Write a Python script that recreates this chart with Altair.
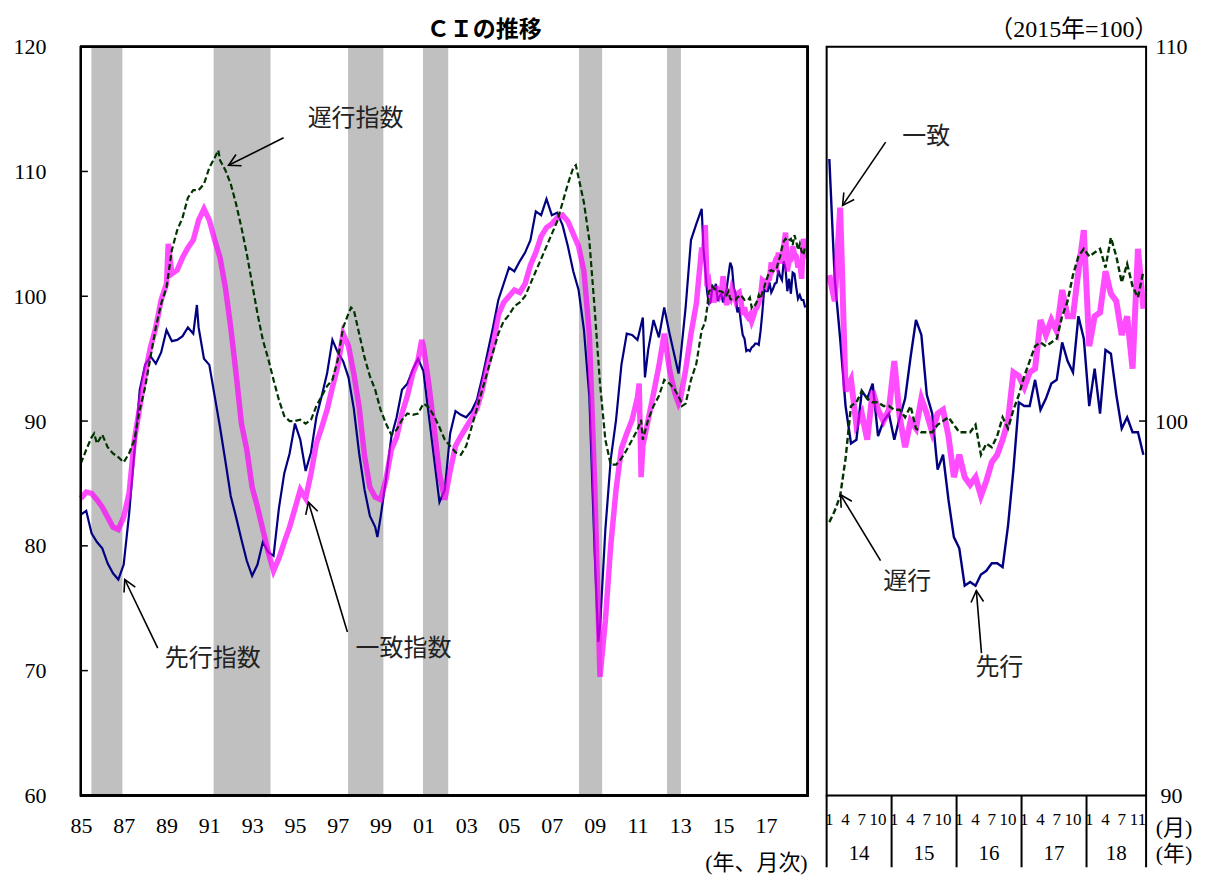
import math
import altair as alt
import pandas as pd

# ---------------- data ----------------
# recession shading (decimal years)
REC_START = [1985.49, 1991.20, 1997.48, 2000.98, 2008.27, 2012.38]
REC_END = [1986.94, 1993.86, 1999.13, 2002.16, 2009.35, 2013.03]

# quarterly values 1985Q1 .. 2013Q4 (t = 1985 + 0.25*k)
Q_LEAD = [82.5, 82.8, 81.0, 80.3, 79.8, 78.6, 77.8, 77.3, 78.5, 82.5, 87.5, 92.5,
          94.5, 95.2, 94.6, 95.5, 97.3, 96.4, 96.5, 96.8, 97.5, 97.0, 97.5, 95.0,
          94.5, 92.0, 89.5, 86.8, 84.0, 82.3, 80.5, 78.8, 77.6, 78.5, 80.3, 79.5,
          79.2, 83.0, 85.8, 87.4, 89.8, 88.5, 86.0, 87.5, 90.3, 92.0, 93.8, 96.5,
          95.5, 94.8, 93.5, 91.0, 87.4, 84.5, 82.4, 81.5, 82.3, 85.3, 88.7, 90.3,
          92.5, 93.0, 94.1, 95.0, 94.0, 90.5, 87.0, 83.5, 84.5, 89.0, 90.8, 90.5,
          90.3, 90.8, 91.7, 93.5, 95.5, 97.5, 99.7, 101.0, 102.3, 102.0, 102.8, 103.5,
          104.5, 106.8, 106.5, 107.8, 106.5, 106.7, 105.7, 104.0, 102.0, 100.5, 97.3, 92.0,
          79.5, 73.5, 81.3, 86.9, 90.1, 94.5, 97.0, 96.9, 96.5, 98.3, 95.7, 98.1,
          96.7, 99.1, 97.0, 95.1, 94.9, 99.1, 104.5, 105.8]
Q_COIN = [83.8, 84.3, 84.2, 83.7, 83.1, 82.3, 81.5, 81.3, 82.3, 84.2, 88.5, 91.1,
          93.8, 95.9, 97.5, 99.7, 101.0, 101.8, 102.1, 103.1, 103.9, 104.5, 106.1, 107.0,
          106.1, 104.5, 103.1, 100.7, 97.5, 93.8, 89.8, 87.7, 84.7, 83.1, 81.3, 79.5,
          78.0, 79.0, 80.3, 81.5, 83.0, 84.5, 83.8, 85.8, 88.2, 89.5, 90.9, 92.7,
          94.4, 97.0, 96.0, 93.8, 91.1, 87.2, 84.7, 83.9, 83.7, 85.3, 87.7, 88.7,
          90.6, 92.0, 93.8, 94.9, 96.0, 93.0, 89.5, 85.8, 83.7, 86.0, 88.0, 88.8,
          89.5, 90.2, 91.0, 92.5, 94.5, 96.0, 98.5, 99.5, 100.0, 100.5, 100.3, 101.0,
          102.5, 103.5, 104.8, 105.5, 105.8, 106.3, 106.5, 106.0, 105.0, 104.0, 102.0, 97.0,
          85.0, 69.5, 74.0, 80.0, 84.5, 87.8, 89.0, 90.1, 91.9, 88.0, 90.1, 92.2,
          94.4, 97.0, 94.1, 92.2, 91.7, 94.1, 97.0, 99.4]
Q_LAG = [86.6, 87.7, 88.7, 88.2, 88.9, 87.9, 87.4, 87.1, 86.7, 87.4, 88.5, 90.9,
         92.7, 95.1, 97.5, 99.4, 100.7, 103.7, 105.3, 106.3, 107.9, 108.5, 108.5, 109.0,
         110.3, 111.1, 110.9, 110.1, 109.0, 107.4, 105.5, 103.4, 101.0, 98.6, 96.5, 95.0,
         93.3, 91.7, 90.4, 90.0, 90.0, 90.1, 89.8, 90.1, 91.2, 92.0, 92.8, 93.3,
         94.9, 97.5, 98.6, 98.9, 97.0, 95.1, 93.6, 92.5, 90.9, 89.8, 88.9, 89.3,
         90.1, 90.6, 90.5, 90.6, 91.4, 91.1, 90.4, 89.5, 88.5, 88.0, 87.5, 87.3,
         88.0, 89.5, 91.0, 92.5, 94.0, 95.5, 97.0, 98.0, 98.5, 99.2, 99.5, 100.0,
         101.0, 102.0, 103.0, 104.0, 105.0, 106.0, 107.5, 109.0, 110.3, 109.5, 107.5, 104.5,
         99.0, 93.0, 88.5, 86.5, 86.5, 87.0, 87.7, 88.5, 89.3, 88.5, 90.1, 91.2,
         92.0, 93.3, 93.0, 92.5, 91.7, 91.4, 93.3, 94.6]

# extra turning points between quarters
LEAD_XT = [1990.42, 1998.85, 2009.17, 2011.35, 2012.92]
LEAD_XV = [99.3, 80.7, 72.3, 93.5, 93.8]
COIN_XT = [1989.08, 2000.92, 2011.08, 2011.17, 2012.92]
COIN_XV = [104.2, 96.5, 93.0, 85.5, 91.4]
LAG_XT = [1985.62, 1991.42, 1997.62, 2008.12, 2011.17, 2013.08]
LAG_XV = [89.0, 111.7, 99.1, 110.5, 90.1, 91.2]

# monthly Jan 2014 .. Nov 2018
M_LEAD = [107.0, 103.8, 102.2, 100.4, 99.4, 99.5, 100.8, 100.6, 101.0, 99.6, 100.0, 100.2,
          99.5, 100.1, 100.6, 101.7, 102.7, 102.3, 100.7, 100.2, 98.7, 99.1, 97.9, 96.9,
          96.6, 95.6, 95.7, 95.6, 95.9, 96.0, 96.2, 96.2, 96.1, 97.2, 98.7, 100.5,
          100.4, 100.4, 101.1, 100.3, 100.6, 101.0, 101.1, 102.1, 101.6, 101.3, 102.8, 102.2,
          100.4, 101.4, 100.2, 101.9, 101.8, 100.7, 99.8, 100.1, 99.7, 99.7, 99.1]
M_COIN = [103.9, 103.2, 105.7, 100.8, 101.1, 99.9, 100.2, 99.5, 100.8, 100.3, 100.0, 100.3,
          101.6, 100.1, 99.3, 100.0, 99.8, 100.6, 100.2, 99.7, 100.2, 100.3, 99.6, 98.5,
          99.1, 98.5, 98.3, 98.5, 98.0, 98.4, 98.9, 99.1, 99.5, 100.0, 101.3, 101.2,
          100.9, 101.3, 101.4, 102.7, 102.3, 102.7, 102.4, 103.5, 102.8, 102.8, 104.0, 105.1,
          102.0, 102.8, 102.9, 104.0, 103.4, 103.2, 102.3, 102.8, 101.4, 104.6, 103.0]
M_LAG = [97.3, 97.6, 98.0, 99.0, 100.4, 100.5, 100.8, 100.6, 100.5, 100.5, 100.4, 100.4,
         100.3, 100.3, 100.1, 100.4, 99.8, 99.7, 99.7, 99.7, 99.9, 100.0, 100.1, 99.9,
         99.7, 99.7, 99.7, 99.9, 99.1, 99.4, 99.3, 99.6, 100.1, 99.8, 100.3, 100.7,
         101.2, 101.6, 102.0, 102.1, 102.0, 102.1, 102.2, 102.8, 103.2, 103.9, 104.4, 104.6,
         104.4, 104.5, 104.6, 104.1, 104.9, 104.4, 103.7, 104.2, 103.6, 103.3, 104.0]

YEAR_TICKS = list(range(1985, 2018, 2))
Y_TICKS_L = [60, 70, 80, 90, 100, 110, 120]
Y_TICKS_R = [90, 100, 110]
R_YEARS = ["14", "15", "16", "17", "18"]
R_MONTHS = [1, 4, 7, 10]
R_MONTH_TEXT_LAST = ["1", "4", "7", "11"]

# annotations: label, text position, arrow tail, arrow head
L_NOTES = [("遅行指数", 1997.83, 114.2, 1994.47, 112.7, 1991.9, 110.5),
           ("先行指数", 1991.16, 70.9, 1988.59, 71.8, 1987.05, 77.3),
           ("一致指数", 2000.07, 71.7, 1997.45, 73.1, 1995.63, 83.5)]
R_NOTES = [("一致", 18.4, 107.6, 10.9, 107.45, 2.95, 105.76),
           ("遅行", 14.9, 95.7, 9.96, 96.27, 2.58, 98.03),
           ("先行", 31.9, 93.4, 28.6, 93.8, 27.65, 95.47)]

# ---------------- layout / style ----------------
W_L, W_R, H = 728, 320, 750
X0, X1 = 1985.0, 2018.95
NUM_FONT = "Liberation Serif, Noto Sans CJK JP"
JP_FONT = "Noto Sans CJK JP"
NAVY, MAG, GREEN = "#000080", "#FF00FF", "#003300"
CHEVRON = "M -0.55 1 L 0 0 L 0.55 1"


def build(q, xt, xv, m):
    rows = [(1985 + 0.25 * k, v) for k, v in enumerate(q)]
    rows += list(zip(xt, xv))
    rows += [(2014 + i / 12, v) for i, v in enumerate(m)]
    rows.sort()
    return pd.DataFrame(rows, columns=["t", "v"])


lead_df = build(Q_LEAD, LEAD_XT, LEAD_XV, M_LEAD)
coin_df = build(Q_COIN, COIN_XT, COIN_XV, M_COIN)
lag_df = build(Q_LAG, LAG_XT, LAG_XV, M_LAG)
rec_df = pd.DataFrame({"s": REC_START, "e": REC_END})


def notes_df(notes, kx, ky):
    rows = []
    for lab, tx, ty, t0, v0, t1, v1 in notes:
        dx = (t1 - t0) * kx
        dy = -(v1 - v0) * ky
        ang = math.degrees(math.atan2(dx, -dy)) % 360
        rows.append(dict(lab=lab, tx=tx, ty=ty, t0=t0, v0=v0, t1=t1, v1=v1, ang=ang))
    return pd.DataFrame(rows)


xL = alt.Scale(domain=[X0, X1], nice=False, zero=False)
yL = alt.Scale(domain=[60, 120], nice=False, zero=False)

x_axis_L = alt.Axis(values=YEAR_TICKS, labelExpr="substring(toString(datum.value), 2, 4)",
                    tickSize=0, labelPadding=20, labelFontSize=22, labelFont=NUM_FONT,
                    labelColor="black", domain=False, grid=False, labelFlush=False,
                    labelOverlap=False, title=None)
y_axis_L = alt.Axis(values=Y_TICKS_L, tickSize=0, labelPadding=35, labelFontSize=22,
                    labelFont=NUM_FONT, labelColor="black", domain=False, grid=False,
                    title=None)


def line(df, color, width, xs, ys, xax=alt.Undefined, yax=alt.Undefined, **kw):
    return alt.Chart(df).mark_line(color=color, strokeWidth=width, **kw).encode(
        x=alt.X("t:Q", scale=xs, axis=xax),
        y=alt.Y("v:Q", scale=ys, axis=yax))


rec = alt.Chart(rec_df).mark_rect(color="#C0C0C0").encode(
    x=alt.X("s:Q", scale=xL, axis=x_axis_L), x2="e:Q",
    y=alt.Y(datum=60, scale=yL, axis=y_axis_L), y2=alt.datum(120))

lead_L = line(lead_df, NAVY, 2.2, xL, yL)
coin_L = line(coin_df, MAG, 5.5, xL, yL, opacity=0.7)
lag_L = line(lag_df, GREEN, 2.2, xL, yL, strokeDash=[6, 3])

ticks_L = alt.Chart(pd.DataFrame({"v": Y_TICKS_L[1:-1]})).mark_rule(
    color="black", strokeWidth=1.5).encode(y="v:Q", x=alt.value(0), x2=alt.value(7))

frame_L = alt.Chart(rec_df).mark_rect(fillOpacity=0, stroke="black", strokeWidth=2).encode(
    x=alt.datum(X0), x2=alt.datum(X1), y=alt.datum(60), y2=alt.datum(120))

nL = notes_df(L_NOTES, W_L / (X1 - X0), H / 60)
shaft_L = alt.Chart(nL).mark_rule(color="black", strokeWidth=1.6).encode(
    x="t0:Q", x2="t1:Q", y="v0:Q", y2="v1:Q")
head_L = alt.Chart(nL).mark_point(shape=CHEVRON, filled=False, size=520, color="black",
                                   strokeWidth=1.6, opacity=1).encode(
    x="t1:Q", y="v1:Q", angle=alt.Angle("ang:Q", scale=None))
text_L = alt.Chart(nL).mark_text(font=JP_FONT, fontSize=24, color="#222").encode(
    x="tx:Q", y="ty:Q", text="lab:N")
unit_L = alt.Chart(rec_df.head(1)).mark_text(font=NUM_FONT, fontSize=22, align="right",
                                               baseline="middle", color="black").encode(
    x=alt.datum(X1), y=alt.value(H + 68), text=alt.value("(年、月次)"))

left = alt.layer(rec, lead_L, coin_L, lag_L, ticks_L, frame_L, shaft_L, head_L, text_L,
                 unit_L).properties(
    width=W_L, height=H,
    title=alt.TitleParams("ＣＩの推移", font=JP_FONT, fontSize=23, fontWeight="bold",
                          anchor="middle", dx=40, offset=-6, color="black"))

# ---------------- right panel ----------------
N = len(M_LEAD)
xR = alt.Scale(domain=[0, N], nice=False, zero=False)
yR = alt.Scale(domain=[90, 110], nice=False, zero=False)
y_axis_R = alt.Axis(orient="right", values=Y_TICKS_R, tickSize=0, labelPadding=25,
                    labelAlign="center", labelFontSize=22, labelFont=NUM_FONT,
                    labelColor="black", domain=False, grid=False, title=None)

u = [i + 0.5 for i in range(N)]
rl = pd.DataFrame({"t": u, "v": M_LEAD})
rc = pd.DataFrame({"t": u, "v": M_COIN})
rg = pd.DataFrame({"t": u, "v": M_LAG})

lead_R = line(rl, NAVY, 2.4, xR, yR, xax=None, yax=y_axis_R)
coin_R = line(rc, MAG, 6, xR, yR, xax=None, opacity=0.7)
lag_R = line(rg, GREEN, 2.4, xR, yR, xax=None, strokeDash=[6, 3])

ticks_R = alt.Chart(pd.DataFrame({"v": [100]})).mark_rule(
    color="black", strokeWidth=1.5).encode(y="v:Q", x=alt.value(W_R - 7), x2=alt.value(W_R))
frame_R = alt.Chart(rl.head(1)).mark_rect(fillOpacity=0, stroke="black", strokeWidth=2).encode(
    x=alt.X(datum=0, axis=None), x2=alt.datum(N), y=alt.datum(90), y2=alt.datum(110))

mrows = []
for yi, yl in enumerate(R_YEARS):
    texts = R_MONTH_TEXT_LAST if yi == len(R_YEARS) - 1 else [str(m) for m in R_MONTHS]
    for m, tx in zip(R_MONTHS, texts):
        mrows.append(dict(u=yi * 12 + m - 0.5, lab=tx))
mon_df = pd.DataFrame(mrows)
mon_txt = alt.Chart(mon_df).mark_text(font=NUM_FONT, fontSize=17, color="black",
                                       baseline="middle").encode(
    x=alt.X("u:Q", axis=None), y=alt.value(H + 25), text="lab:N")

yr_df = pd.DataFrame({"u": [min(yi * 12 + 6, (yi * 12 + N) / 2) for yi in range(len(R_YEARS))],
                      "lab": R_YEARS})
yr_txt = alt.Chart(yr_df).mark_text(font=NUM_FONT, fontSize=21, color="black",
                                     baseline="middle").encode(
    x=alt.X("u:Q", axis=None), y=alt.value(H + 59), text="lab:N")

sep_df = pd.DataFrame({"u": [0, 12, 24, 36, 48, N]})
sep = alt.Chart(sep_df).mark_rule(color="black", strokeWidth=2).encode(
    x=alt.X("u:Q", axis=None), y=alt.value(H), y2=alt.value(H + 72))

unit_R = alt.Chart(pd.DataFrame({"lab": ["(月)", "(年)"], "yy": [H + 33, H + 59]})).mark_text(
    font=NUM_FONT, fontSize=22, color="black", baseline="middle", dx=28).encode(
    x=alt.X(datum=N, axis=None), y=alt.Y("yy:Q", scale=None), text="lab:N")

nR = notes_df(R_NOTES, W_R / N, H / 20)
shaft_R = alt.Chart(nR).mark_rule(color="black", strokeWidth=1.6).encode(
    x=alt.X("t0:Q", axis=None), x2="t1:Q", y="v0:Q", y2="v1:Q")
head_R = alt.Chart(nR).mark_point(shape=CHEVRON, filled=False, size=520, color="black",
                                   strokeWidth=1.6, opacity=1).encode(
    x=alt.X("t1:Q", axis=None), y="v1:Q", angle=alt.Angle("ang:Q", scale=None))
text_R = alt.Chart(nR).mark_text(font=JP_FONT, fontSize=24, color="#222").encode(
    x=alt.X("tx:Q", axis=None), y="ty:Q", text="lab:N")

right = alt.layer(lead_R, coin_R, lag_R, ticks_R, frame_R, sep, mon_txt, yr_txt, unit_R,
                  shaft_R, head_R, text_R).properties(
    width=W_R, height=H,
    title=alt.TitleParams("（2015年=100）", font=NUM_FONT, fontSize=24, fontWeight="normal",
                          anchor="end", dx=-34, offset=-6, color="black"))

chart = alt.hconcat(left, right, spacing=19, bounds="flush").properties(
    padding={"left": 4, "top": 8, "right": 5, "bottom": 5}
).configure_view(stroke="transparent").configure(background="white")

chart.save("out.html", embed_options={"renderer": "svg", "actions": False})
